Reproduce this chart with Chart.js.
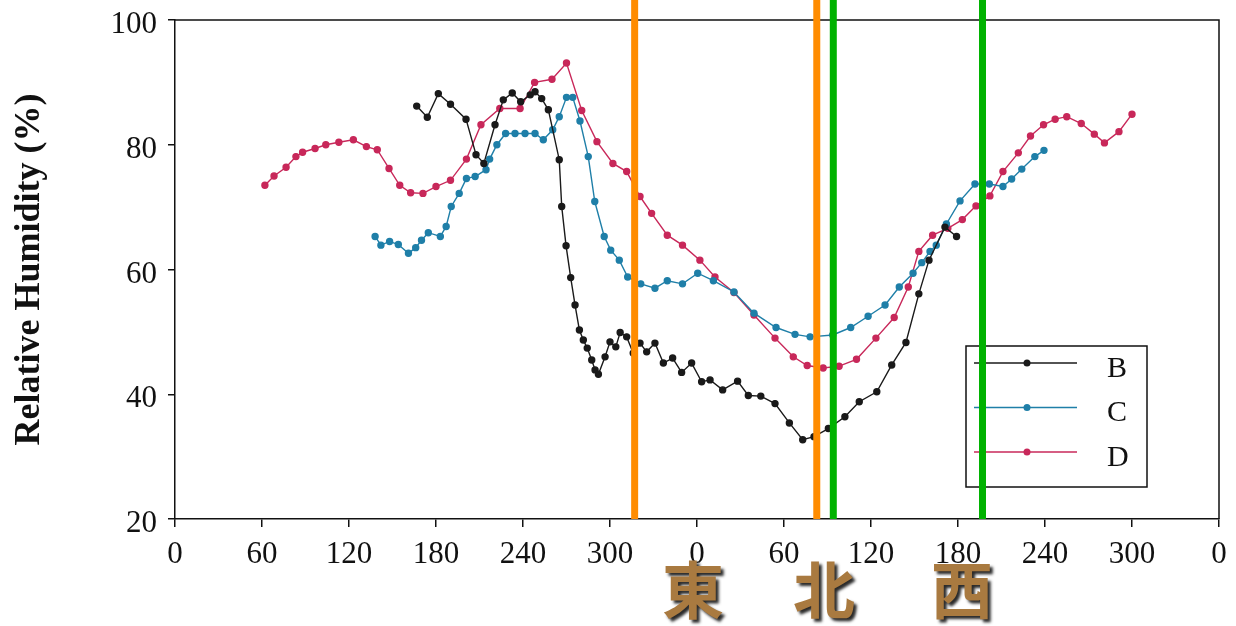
<!DOCTYPE html>
<html>
<head>
<meta charset="utf-8">
<script src="https://cdn.jsdelivr.net/npm/chart.js@4.4.1/dist/chart.umd.min.js"></script>
<style>
  html, body { margin: 0; padding: 0; background: #fff; }
  #wrap { position: relative; width: 1236px; height: 626px; overflow: hidden; }
  canvas { display: block; }
  .dir {
    position: absolute; top: 542px; line-height: 1;
    font: 700 62px 'Noto Sans CJK JP', 'Noto Sans CJK SC', sans-serif;
    color: #a97a40; text-shadow: 3px 3px 3px #2a2a2a;
    transform: translateX(-50%);
  }
</style>
</head>
<body>
<div id="wrap">
  <canvas id="rh" width="1236" height="626"></canvas>
  <span class="dir" style="left:693px">東</span>
  <span class="dir" style="left:824px">北</span>
  <span class="dir" style="left:962px">西</span>
</div>
<script>
// ── Data ──────────────────────────────────────────────────────
// x runs over two turns (0–720), labelled modulo 360
const xTickLabels = ['0', '60', '120', '180', '240', '300', '0', '60', '120', '180', '240', '300', '0'];

const bAngle = [166.7, 174, 181.6, 190, 200.7, 207.6, 213, 220.7, 226.4, 232.6, 238.4, 245, 248.3, 252.9, 257.5,
  265, 266.7, 269.7, 272.9, 275.9, 278.9, 281.6, 284.3, 287.4, 289.7, 292, 296.6, 300, 304, 307, 311.5,
  316, 320.7, 325.3, 331, 336.8, 343.2, 349.4, 356.3, 363.2, 369, 377.7, 388, 395.4, 404, 413.8, 423.7,
  432.9, 440.7, 450.6, 462, 471.9, 484, 494.3, 504.1, 513, 520, 531, 539];
const bRH = [86.2, 84.4, 88.2, 86.5, 84.1, 78.4, 77.0, 83.2, 87.2, 88.3, 86.9, 88.0, 88.5, 87.4, 85.6,
  77.6, 70.1, 63.8, 58.7, 54.3, 50.3, 48.7, 47.4, 45.5, 43.9, 43.2, 46.0, 48.4, 47.6, 49.9, 49.2,
  46.6, 48.2, 46.8, 48.2, 45.0, 45.8, 43.5, 45.0, 42.0, 42.3, 40.7, 42.1, 39.8, 39.7, 38.5, 35.4,
  32.7, 33.2, 34.5, 36.4, 38.8, 40.4, 44.7, 48.3, 56.1, 61.5, 66.8, 65.3];

const cAngle = [138, 142, 148, 154, 161, 166, 170, 174.7, 183, 187, 190.5, 196, 201, 207, 214.5, 217, 222,
  228, 234.5, 241.4, 248.3, 254, 260.5, 265, 270, 274.3, 279.3, 285, 289.5, 296, 300.5, 306.4, 312.2,
  321.2, 331, 339.5, 350, 360.5, 371.3, 385.5, 399.3, 414.5, 427.6, 438, 453.6, 466, 478, 489.7, 499.5,
  509, 515, 520.7, 525, 532, 541.4, 551.7, 561.6, 571, 577, 584, 593, 599.3];
const cRH = [65.3, 63.9, 64.5, 64.0, 62.6, 63.5, 64.7, 65.9, 65.3, 66.9, 70.1, 72.2, 74.6, 74.9, 76.0, 77.7, 80.0,
  81.8, 81.8, 81.8, 81.8, 80.8, 82.4, 84.5, 87.6, 87.6, 83.8, 78.1, 70.9, 65.3, 63.1, 61.5, 58.8,
  57.7, 57.0, 58.2, 57.7, 59.4, 58.2, 56.4, 53.0, 50.7, 49.6, 49.2, 49.5, 50.7, 52.5, 54.3, 57.2,
  59.4, 61.1, 62.9, 63.9, 67.3, 71.0, 73.7, 73.7, 73.3, 74.5, 76.1, 78.1, 79.1];

const dAngle = [62, 68.3, 76.6, 83.4, 88, 96.6, 104, 113, 123, 132, 139.5, 147.6, 155, 162.5, 171, 180, 190,
  201, 211, 224, 238, 248, 260, 270, 280.5, 291, 302, 311.5, 320.7, 328.7, 339.5, 350, 362, 372.4,
  385.5, 399.3, 413.8, 426.4, 436, 447, 458, 470, 483.4, 496, 505.7, 513, 522.5, 533, 543, 552.4, 562,
  571, 581.6, 590, 599, 607, 615, 625, 634, 641, 651, 660];
const dRH = [73.5, 75.0, 76.4, 78.1, 78.8, 79.4, 80.0, 80.4, 80.8, 79.7, 79.2, 76.2, 73.5, 72.3, 72.2, 73.3, 74.3,
  77.7, 83.2, 85.8, 85.8, 90.0, 90.5, 93.1, 85.5, 80.5, 77.0, 75.7, 71.7, 69.0, 65.5, 63.9, 61.5, 58.8,
  56.3, 52.7, 49.0, 46.0, 44.6, 44.2, 44.5, 45.6, 49.0, 52.3, 57.2, 62.9, 65.5, 66.6, 68.0, 70.2, 71.8,
  75.7, 78.7, 81.4, 83.2, 84.1, 84.5, 83.4, 81.7, 80.3, 82.1, 84.9];

// vertical marker lines (x positions on the same 0–720 scale)
const markerAt     = [317, 442.6, 454, 556.9];
const markerColors = ['#ff8c00', '#ff8c00', '#00b200', '#00b200'];

// ── Helpers ───────────────────────────────────────────────────
const toPoints = (xs, ys) => xs.map((x, i) => ({ x, y: ys[i] }));
const INK = '#111';
const SERIF = "'Liberation Serif', 'Times New Roman', serif";

const series = (label, xs, ys, color) => ({
  label,
  data: toPoints(xs, ys),
  showLine: true,
  borderColor: color,
  backgroundColor: color,
  borderWidth: 1.4,
  pointRadius: 3,
  pointHoverRadius: 3,
  tension: 0,
});

// ── Frame, legend box and marker lines ────────────────────────
const extras = {
  id: 'extras',
  afterDraw(chart) {
    const { ctx, chartArea: a, scales: { x } } = chart;
    ctx.save();

    // top + right frame
    ctx.strokeStyle = INK;
    ctx.lineWidth = 1.5;
    ctx.beginPath();
    ctx.moveTo(a.left, a.top);
    ctx.lineTo(a.right, a.top);
    ctx.lineTo(a.right, a.bottom);
    ctx.stroke();

    // legend
    const lx = a.right - 253, ly = a.top + 326, lw = 181, lh = 141;
    ctx.fillStyle = '#fff';
    ctx.fillRect(lx, ly, lw, lh);
    ctx.strokeStyle = INK;
    ctx.lineWidth = 1.5;
    ctx.strokeRect(lx, ly, lw, lh);
    chart.data.datasets.forEach((ds, i) => {
      const ry = ly + 17 + i * 44.5;
      ctx.strokeStyle = ds.borderColor;
      ctx.lineWidth = 1.4;
      ctx.beginPath();
      ctx.moveTo(lx + 8, ry);
      ctx.lineTo(lx + 111, ry);
      ctx.stroke();
      ctx.fillStyle = ds.backgroundColor;
      ctx.beginPath();
      ctx.arc(lx + 61, ry, 3.5, 0, Math.PI * 2);
      ctx.fill();
      ctx.fillStyle = INK;
      ctx.font = `30px ${SERIF}`;
      ctx.textBaseline = 'middle';
      ctx.textAlign = 'left';
      ctx.fillText(ds.label, lx + 141, ry + 6);
    });

    // vertical marker lines, drawn over everything
    markerAt.forEach((v, i) => {
      const px = x.getPixelForValue(v);
      ctx.strokeStyle = markerColors[i];
      ctx.lineWidth = 7;
      ctx.beginPath();
      ctx.moveTo(px, 0);
      ctx.lineTo(px, a.bottom);
      ctx.stroke();
    });

    ctx.restore();
  },
};

// ── Chart ─────────────────────────────────────────────────────
Chart.defaults.font.family = SERIF;
Chart.defaults.color = INK;

new Chart(document.getElementById('rh'), {
  type: 'scatter',
  data: {
    datasets: [
      series('B', bAngle, bRH, '#1a1a1a'),
      series('C', cAngle, cRH, '#1f7fa8'),
      series('D', dAngle, dRH, '#c8285a'),
    ],
  },
  options: {
    responsive: false,
    animation: false,
    layout: { padding: { top: 20, right: 17, left: 0, bottom: 0 } },
    plugins: { legend: { display: false }, tooltip: { enabled: false } },
    scales: {
      x: {
        type: 'linear',
        min: 0,
        max: 720,
        afterBuildTicks: (s) => { s.ticks = xTickLabels.map((_, i) => ({ value: i * 60 })); },
        ticks: {
          callback: (v, i) => xTickLabels[i],
          font: { size: 31 },
          color: INK,
          padding: 9,
          maxRotation: 0,
          autoSkip: false,
        },
        grid: { drawOnChartArea: false, tickLength: 8, color: INK, lineWidth: 1.5 },
        border: { color: INK, width: 1.5 },
        afterFit: (s) => { s.height = 107; },
      },
      y: {
        min: 20,
        max: 100,
        ticks: { stepSize: 20, font: { size: 31, lineHeight: 0.5 }, color: INK, padding: 11, labelOffset: 5 },
        grid: { drawOnChartArea: false, tickLength: 7, color: INK, lineWidth: 1.5 },
        border: { color: INK, width: 1.5 },
        title: {
          display: true,
          text: 'Relative Humidity (%)',
          font: { size: 36, weight: 'bold' },
          color: INK,
          padding: { top: 8, bottom: 0 },
        },
        afterFit: (s) => { s.width = 175; },
      },
    },
  },
  plugins: [extras],
});
</script>
</body>
</html>
